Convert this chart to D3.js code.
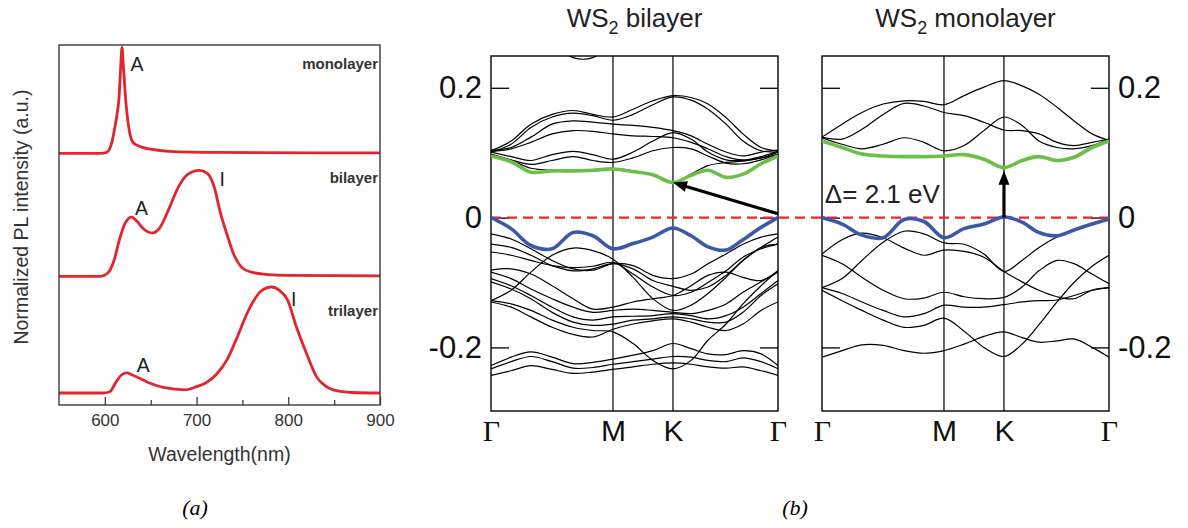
<!DOCTYPE html>
<html>
<head>
<meta charset="utf-8">
<script src="https://cdn.jsdelivr.net/npm/d3@7"></script>
<style>
  body { margin: 0; background: #fff; }
</style>
</head>
<body>
<div class="chart--container"></div>
<script>
// ---------- (a) PL spectra ----------
const plTicks = [600, 700, 800, 900],
      plMinorTicks = [650, 750, 850],
      plNames = ['monolayer', 'bilayer', 'trilayer'],
      plOffsets = [2.26, 1.1, 0];

const monoWl = [550, 595, 602, 605, 607.5, 611, 613.5, 615.5, 617.5, 618.7, 620, 622.5, 626, 631, 640, 650, 670, 720, 900],
      monoPL = [0, 0, 0.01, 0.04, 0.1, 0.25, 0.38, 0.53, 0.85, 1.0, 0.85, 0.53, 0.25, 0.1, 0.06, 0.04, 0.02, 0.01, 0.005];

const biWl = [550, 595, 603, 610, 616, 622, 629, 635, 642, 652, 660, 670, 680, 690, 703, 712, 719, 726, 733, 741, 750, 760, 775, 800, 900],
      biPL = [0, 0, 0.03, 0.15, 0.35, 0.5, 0.56, 0.52, 0.45, 0.41, 0.46, 0.64, 0.84, 0.96, 1.0, 0.97, 0.85, 0.6, 0.4, 0.2, 0.08, 0.04, 0.02, 0.01, 0.005];

const triWl = [550, 598, 605, 612, 618, 624, 630, 640, 650, 665, 687, 700, 711, 722, 733, 744, 755, 763, 770, 782, 790, 799, 809, 820, 831, 840, 849, 870, 900],
      triPL = [0, 0, 0.01, 0.1, 0.17, 0.19, 0.17, 0.13, 0.09, 0.05, 0.03, 0.06, 0.1, 0.18, 0.31, 0.52, 0.75, 0.88, 0.96, 1.0, 0.97, 0.88, 0.62, 0.37, 0.15, 0.07, 0.03, 0.005, 0];

// peak labels: [wavelength, intensity above baseline, series index, text]
const peakLabels = [[635, 0.78, 0, 'A'], [640, 0.58, 1, 'A'], [728, 0.85, 1, 'I'], [642, 0.2, 2, 'A'], [806, 0.82, 2, 'I']];

// ---------- (b) band structures ----------
const kGrid = [0, 0.07, 0.139, 0.213, 0.286, 0.355, 0.425, 0.495, 0.564, 0.634, 0.697, 0.756, 0.819, 0.878, 0.941, 1],
      kTicks = [0, 0.425, 0.634, 1],
      kLabels = ['Γ', 'M', 'K', 'Γ'],
      eTicks = [-0.2, 0, 0.2],
      eTickLabels = ['-0.2', '0', '0.2'];

// bilayer conduction bands (eV)
const biC0 = [0.40, 0.36, 0.31, 0.27, 0.2465, 0.2465, 0.27, 0.30, 0.33, 0.36, 0.35, 0.33, 0.31, 0.33, 0.37, 0.40],
      biC1 = [0.103, 0.118, 0.144, 0.159, 0.165, 0.159, 0.155, 0.167, 0.180, 0.188, 0.185, 0.175, 0.154, 0.129, 0.108, 0.103],
      biC2 = [0.101, 0.113, 0.139, 0.155, 0.161, 0.157, 0.150, 0.159, 0.174, 0.186, 0.181, 0.167, 0.144, 0.118, 0.103, 0.101],
      biC3 = [0.104, 0.108, 0.124, 0.144, 0.149, 0.147, 0.144, 0.142, 0.139, 0.134, 0.126, 0.113, 0.101, 0.095, 0.101, 0.104],
      biC4 = [0.102, 0.106, 0.116, 0.129, 0.134, 0.133, 0.129, 0.126, 0.125, 0.123, 0.116, 0.106, 0.094, 0.089, 0.094, 0.102],
      biC5 = [0.101, 0.094, 0.088, 0.097, 0.102, 0.097, 0.090, 0.101, 0.118, 0.131, 0.121, 0.101, 0.089, 0.088, 0.092, 0.101],
      biC6 = [0.098, 0.089, 0.082, 0.088, 0.094, 0.088, 0.085, 0.092, 0.103, 0.108, 0.106, 0.095, 0.084, 0.083, 0.089, 0.098],
      biC7 = [0.097, 0.088, 0.076, 0.073, 0.073, 0.074, 0.076, 0.072, 0.065, 0.054, 0.067, 0.080, 0.085, 0.087, 0.092, 0.097],
      biCBM = [0.095, 0.086, 0.070, 0.072, 0.072, 0.073, 0.075, 0.071, 0.066, 0.054, 0.065, 0.073, 0.062, 0.067, 0.083, 0.095];

// bilayer valence bands (eV)
const biVBM = [0, -0.017, -0.043, -0.048, -0.023, -0.028, -0.048, -0.040, -0.030, -0.016, -0.028, -0.045, -0.050, -0.034, -0.015, 0],
      biV1 = [-0.025, -0.033, -0.048, -0.066, -0.079, -0.081, -0.071, -0.074, -0.089, -0.094, -0.087, -0.071, -0.056, -0.041, -0.030, -0.025],
      biV2 = [-0.128, -0.112, -0.084, -0.058, -0.047, -0.051, -0.064, -0.092, -0.125, -0.143, -0.135, -0.117, -0.092, -0.066, -0.046, -0.041],
      biV3 = [-0.041, -0.046, -0.058, -0.074, -0.082, -0.079, -0.071, -0.079, -0.097, -0.106, -0.112, -0.107, -0.089, -0.066, -0.046, -0.030],
      biV4 = [-0.053, -0.058, -0.066, -0.074, -0.077, -0.075, -0.069, -0.087, -0.107, -0.120, -0.115, -0.100, -0.082, -0.061, -0.048, -0.041],
      biV5 = [-0.081, -0.079, -0.087, -0.105, -0.125, -0.141, -0.138, -0.130, -0.125, -0.120, -0.105, -0.089, -0.084, -0.092, -0.097, -0.082],
      biV6 = [-0.084, -0.094, -0.110, -0.125, -0.138, -0.146, -0.143, -0.141, -0.143, -0.146, -0.148, -0.143, -0.133, -0.115, -0.099, -0.084],
      biV7 = [-0.094, -0.105, -0.120, -0.138, -0.153, -0.158, -0.153, -0.152, -0.151, -0.148, -0.151, -0.156, -0.151, -0.138, -0.117, -0.097],
      biV8 = [-0.099, -0.110, -0.125, -0.146, -0.161, -0.166, -0.164, -0.158, -0.156, -0.153, -0.156, -0.161, -0.161, -0.146, -0.120, -0.102],
      biV9 = [-0.130, -0.138, -0.153, -0.169, -0.180, -0.184, -0.172, -0.164, -0.159, -0.156, -0.161, -0.169, -0.174, -0.164, -0.143, -0.130],
      biV10 = [-0.128, -0.133, -0.143, -0.158, -0.169, -0.174, -0.176, -0.194, -0.220, -0.233, -0.220, -0.189, -0.164, -0.133, -0.105, -0.082],
      biV11 = [-0.228, -0.215, -0.207, -0.215, -0.225, -0.223, -0.218, -0.212, -0.205, -0.194, -0.202, -0.210, -0.211, -0.205, -0.210, -0.228],
      biV12 = [-0.233, -0.222, -0.214, -0.222, -0.232, -0.231, -0.226, -0.222, -0.218, -0.214, -0.215, -0.220, -0.222, -0.216, -0.222, -0.233],
      biV13 = [-0.243, -0.236, -0.228, -0.234, -0.240, -0.238, -0.234, -0.230, -0.226, -0.224, -0.226, -0.230, -0.232, -0.230, -0.236, -0.243];

// monolayer bands (eV)
const monoC1 = [0.124, 0.144, 0.162, 0.175, 0.180, 0.179, 0.174, 0.188, 0.201, 0.211, 0.203, 0.190, 0.170, 0.149, 0.129, 0.119],
      monoC2 = [0.124, 0.121, 0.136, 0.159, 0.176, 0.172, 0.162, 0.157, 0.147, 0.135, 0.134, 0.129, 0.116, 0.111, 0.116, 0.121],
      monoC3 = [0.123, 0.113, 0.106, 0.113, 0.123, 0.116, 0.103, 0.111, 0.134, 0.155, 0.142, 0.118, 0.108, 0.106, 0.111, 0.121],
      monoCBM = [0.118, 0.108, 0.098, 0.095, 0.094, 0.094, 0.095, 0.097, 0.090, 0.077, 0.088, 0.094, 0.088, 0.093, 0.108, 0.118];

const monoVBM = [0, -0.010, -0.027, -0.031, -0.003, -0.006, -0.031, -0.017, -0.010, 0.001, -0.007, -0.023, -0.028, -0.019, -0.010, -0.002],
      monoV1 = [-0.056, -0.034, -0.024, -0.031, -0.047, -0.058, -0.050, -0.052, -0.061, -0.083, -0.099, -0.112, -0.122, -0.125, -0.112, -0.108],
      monoV2 = [-0.108, -0.094, -0.066, -0.038, -0.021, -0.025, -0.039, -0.041, -0.056, -0.083, -0.066, -0.046, -0.030, -0.020, -0.010, -0.004],
      monoV3 = [-0.058, -0.071, -0.092, -0.112, -0.125, -0.124, -0.115, -0.122, -0.125, -0.123, -0.107, -0.082, -0.066, -0.071, -0.087, -0.102],
      monoV4 = [-0.108, -0.117, -0.130, -0.143, -0.153, -0.148, -0.135, -0.138, -0.138, -0.134, -0.130, -0.128, -0.127, -0.120, -0.112, -0.108],
      monoV5 = [-0.112, -0.128, -0.143, -0.158, -0.169, -0.166, -0.155, -0.175, -0.200, -0.214, -0.195, -0.165, -0.130, -0.100, -0.075, -0.058],
      monoV6 = [-0.215, -0.205, -0.196, -0.197, -0.205, -0.209, -0.205, -0.195, -0.183, -0.176, -0.185, -0.192, -0.190, -0.187, -0.200, -0.215];

// arrows: [k, E] of tail and tip
const biArrow = [[1, 0.006], [0.634, 0.054]],
      monoArrow = [[0.634, 0.0], [0.634, 0.072]];

const SANS = '"Liberation Sans", Arial, sans-serif',
      SERIF = '"Liberation Serif", "Times New Roman", serif';

let svg = d3.select('.chart--container')
            .append('svg')
            .attr('width', 1188)
            .attr('height', 528)
            .attr('font-family', SANS)
            .style('display', 'block');

drawPL();
drawBands();

function drawPL(){
    let pa = {l: 59, r: 380, t: 45, b: 405},
        xa = d3.scaleLinear().domain([550, 900]).range([pa.l, pa.r]),
        ya = d3.scaleLinear().domain([-0.113, 3.283]).range([pa.b, pa.t]),
        series = [[monoWl, monoPL], [biWl, biPL], [triWl, triPL]],
        g = svg.append('g');

    series.forEach((s, i) => {
        let line = d3.line()
                     .x(d => xa(d[0]))
                     .y(d => ya(d[1] + plOffsets[i]))
                     .curve(d3.curveMonotoneX);
        g.append('path')
         .attr('d', line(d3.zip(s[0], s[1])))
         .attr('fill', 'none')
         .attr('stroke', '#e3242b')
         .attr('stroke-width', 2.8)
         .attr('stroke-linejoin', 'round');
    });

    // frame
    g.append('rect')
     .attr('x', pa.l).attr('y', pa.t)
     .attr('width', pa.r - pa.l).attr('height', pa.b - pa.t)
     .attr('fill', 'none').attr('stroke', '#3a3a3a').attr('stroke-width', 1.4);

    // x-axis
    let ax = g.append('g')
              .attr('transform', `translate(0, ${pa.b})`)
              .call(d3.axisBottom(xa).tickValues(plTicks).tickSize(-8).tickPadding(9).tickFormat(d3.format('d')));
    ax.select('.domain').remove();
    ax.selectAll('line').attr('stroke', '#3a3a3a').attr('stroke-width', 1.3);
    ax.selectAll('text').attr('font-size', 17).attr('font-family', SANS).attr('fill', '#333');

    let mx = g.append('g')
              .attr('transform', `translate(0, ${pa.b})`)
              .call(d3.axisBottom(xa).tickValues(plMinorTicks).tickSize(-5).tickFormat(''));
    mx.select('.domain').remove();
    mx.selectAll('line').attr('stroke', '#3a3a3a').attr('stroke-width', 1.3);

    // axis labels
    g.append('text')
     .attr('x', (pa.l + pa.r) / 2)
     .attr('y', 461)
     .attr('text-anchor', 'middle')
     .attr('font-size', 19.5)
     .attr('fill', '#333')
     .text('Wavelength(nm)');

    g.append('text')
     .attr('transform', `translate(28, ${(pa.t + pa.b) / 2 - 8}) rotate(-90)`)
     .attr('text-anchor', 'middle')
     .attr('font-size', 19.5)
     .attr('fill', '#333')
     .text('Normalized PL intensity (a.u.)');

    // series names
    let nameY = [69, 183, 316];
    plNames.forEach((n, i) => {
        g.append('text')
         .attr('x', pa.r - 2)
         .attr('y', nameY[i])
         .attr('text-anchor', 'end')
         .attr('font-size', 15)
         .attr('font-weight', 'bold')
         .attr('fill', '#333')
         .text(n);
    });

    // peak labels
    peakLabels.forEach(p => {
        g.append('text')
         .attr('x', xa(p[0]))
         .attr('y', ya(p[1] + plOffsets[p[2]]))
         .attr('text-anchor', 'middle')
         .attr('font-size', 19.5)
         .attr('fill', '#222')
         .text(p[3]);
    });

    svg.append('text')
       .attr('x', 195).attr('y', 515)
       .attr('text-anchor', 'middle')
       .attr('font-family', SERIF)
       .attr('font-style', 'italic')
       .attr('font-size', 22)
       .text('(a)');
}

function drawBands(){
    let ey = d3.scaleLinear().domain([-0.298, 0.249]).range([411, 56]),
        panels = [
            {l: 491, r: 778, title: 'bilayer', side: 'left',
             bands: [biC0, biC1, biC2, biC3, biC4, biC5, biC6, biC7, biV1, biV2, biV3, biV4, biV5, biV6, biV7, biV8, biV9, biV10, biV11, biV12, biV13],
             cbm: biCBM, vbm: biVBM, arrow: biArrow},
            {l: 822, r: 1109, title: 'monolayer', side: 'right',
             bands: [monoC1, monoC2, monoC3, monoV1, monoV2, monoV3, monoV4, monoV5, monoV6],
             cbm: monoCBM, vbm: monoVBM, arrow: monoArrow}
        ],
        xFull = d3.scaleLinear().domain([0, 1]).range([491, 1109]);

    panels.forEach((p, pi) => {
        let kx = d3.scaleLinear().domain([0, 1]).range([p.l, p.r]),
            id = 'clip' + pi,
            g = svg.append('g'),
            line = d3.line()
                     .x((e, i) => kx(kGrid[i]))
                     .y(e => ey(e))
                     .curve(d3.curveCatmullRom.alpha(0.5));

        svg.append('clipPath').attr('id', id)
           .append('rect')
           .attr('x', p.l).attr('y', ey(0.249))
           .attr('width', p.r - p.l).attr('height', ey(-0.298) - ey(0.249));

        let bg = g.append('g').attr('clip-path', `url(#${id})`);

        // M and K lines
        bg.selectAll('line.sym')
          .data(kTicks.slice(1, 3))
          .enter()
          .append('line')
          .attr('x1', d => kx(d)).attr('x2', d => kx(d))
          .attr('y1', ey(0.249)).attr('y2', ey(-0.298))
          .attr('stroke', '#000').attr('stroke-width', 1.2);

        bg.selectAll('path.band')
          .data(p.bands)
          .enter()
          .append('path')
          .attr('class', 'band')
          .attr('d', d => line(d))
          .attr('fill', 'none')
          .attr('stroke', '#000')
          .attr('stroke-width', 1.2);

        // frame
        g.append('rect')
         .attr('x', p.l).attr('y', ey(0.249))
         .attr('width', p.r - p.l).attr('height', ey(-0.298) - ey(0.249))
         .attr('fill', 'none').attr('stroke', '#000').attr('stroke-width', 1.4);

        // y ticks on both sides
        let la = g.append('g')
                  .attr('transform', `translate(${p.l}, 0)`)
                  .call(d3.axisLeft(ey).tickValues(eTicks).tickSize(-18).tickPadding(9)
                          .tickFormat((d, i) => p.side === 'left' ? eTickLabels[i] : ''));
        let ra = g.append('g')
                  .attr('transform', `translate(${p.r}, 0)`)
                  .call(d3.axisRight(ey).tickValues(eTicks).tickSize(-18).tickPadding(9)
                          .tickFormat((d, i) => p.side === 'right' ? eTickLabels[i] : ''));
        [la, ra].forEach(a => {
            a.select('.domain').remove();
            a.selectAll('line').attr('stroke', '#000').attr('stroke-width', 1.3);
            a.selectAll('text').attr('font-size', 31).attr('font-family', SANS).attr('fill', '#111');
        });

        // k labels
        let xa = g.append('g')
                  .attr('transform', `translate(0, ${ey(-0.298)})`)
                  .call(d3.axisBottom(kx).tickValues(kTicks).tickSize(0).tickPadding(9)
                          .tickFormat((d, i) => kLabels[i]));
        xa.select('.domain').remove();
        xa.selectAll('text')
          .attr('font-size', 30)
          .attr('fill', '#111')
          .attr('font-family', (d, i) => kLabels[i] === 'Γ' ? SERIF : SANS);

        // title
        let t = g.append('text')
                 .attr('x', (p.l + p.r) / 2)
                 .attr('y', 27)
                 .attr('text-anchor', 'middle')
                 .attr('font-size', 26)
                 .attr('fill', '#222');
        t.append('tspan').text('WS');
        t.append('tspan').attr('font-size', 18).attr('dy', 7).text('2');
        t.append('tspan').attr('dy', -7).text(' ' + p.title);
        p.kx = kx;
        p.line = line;
        p.clip = id;
    });

    // Fermi level (dashed red across both panels)
    svg.append('line')
       .attr('x1', xFull(0)).attr('x2', xFull(1))
       .attr('y1', ey(0)).attr('y2', ey(0))
       .attr('stroke', '#e8262b')
       .attr('stroke-width', 2.2)
       .attr('stroke-dasharray', '10,6');

    panels.forEach(p => {
        let cg = svg.append('g').attr('clip-path', `url(#${p.clip})`);
        cg.append('path')
          .attr('d', p.line(p.cbm))
          .attr('fill', 'none').attr('stroke', '#6cbf48').attr('stroke-width', 3.6);
        cg.append('path')
          .attr('d', p.line(p.vbm))
          .attr('fill', 'none').attr('stroke', '#3d58a8').attr('stroke-width', 3.6);

        // arrow
        let x0 = p.kx(p.arrow[0][0]), y0 = ey(p.arrow[0][1]),
            x1 = p.kx(p.arrow[1][0]), y1 = ey(p.arrow[1][1]),
            len = Math.hypot(x1 - x0, y1 - y0),
            ux = (x1 - x0) / len, uy = (y1 - y0) / len,
            hl = 14, hw = 5.5,
            bx = x1 - ux * hl, by = y1 - uy * hl;
        svg.append('line')
           .attr('x1', x0).attr('y1', y0)
           .attr('x2', bx + ux * 2).attr('y2', by + uy * 2)
           .attr('stroke', '#000').attr('stroke-width', 3.2);
        svg.append('path')
           .attr('d', `M${x1},${y1}L${bx - uy * hw},${by + ux * hw}L${bx + uy * hw},${by - ux * hw}Z`)
           .attr('fill', '#000');
    });

    // gap label
    svg.append('text')
       .attr('x', panels[1].kx(0.01))
       .attr('y', ey(0.023))
       .attr('font-size', 26)
       .attr('fill', '#222')
       .text('Δ= 2.1 eV');

    svg.append('text')
       .attr('x', 795).attr('y', 515)
       .attr('text-anchor', 'middle')
       .attr('font-family', SERIF)
       .attr('font-style', 'italic')
       .attr('font-size', 22)
       .text('(b)');
}
</script>
</body>
</html>
